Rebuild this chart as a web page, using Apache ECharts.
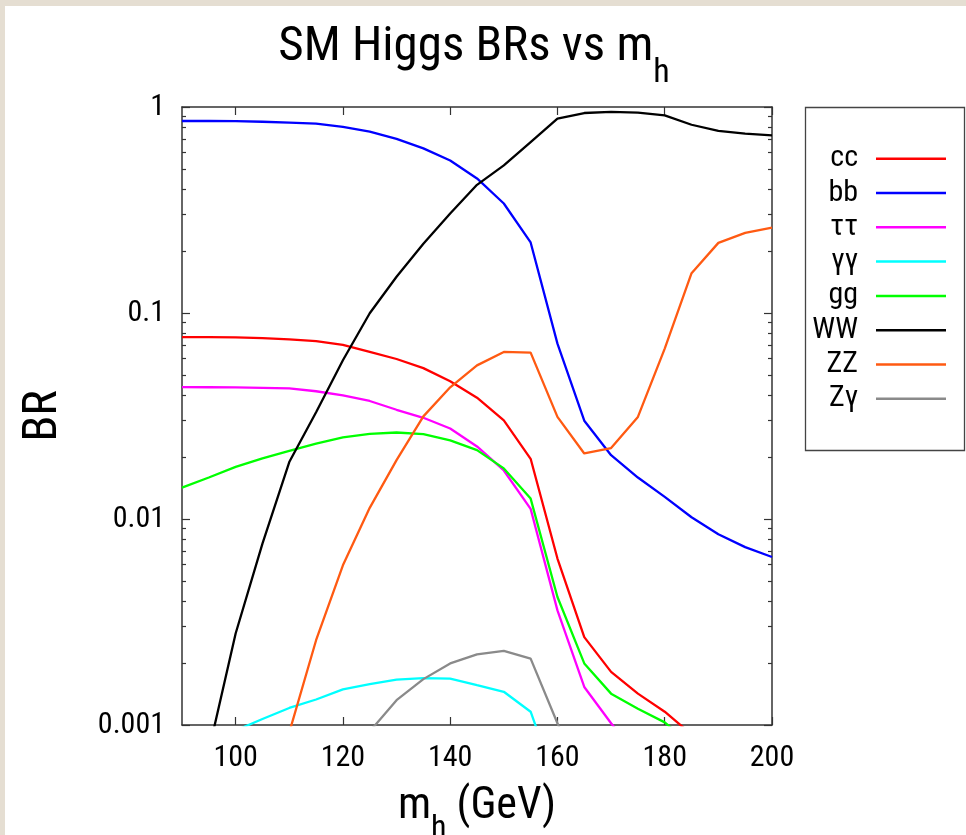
<!DOCTYPE html>
<html><head><meta charset="utf-8">
<script src="https://cdn.jsdelivr.net/npm/echarts@6/dist/echarts.min.js"></script>
<style>
html,body{margin:0;padding:0;background:#fff;}
#frameTop{position:absolute;left:0;top:0;width:966px;height:6px;background:#e5ded2;}
#frameLeft{position:absolute;left:0;top:0;width:5px;height:835px;background:#e5ded2;}
#c{position:absolute;left:0;top:0;width:966px;height:835px;}
</style></head>
<body>
<div id="c"></div>
<div id="frameTop"></div><div id="frameLeft"></div>
<script>
const masses = [90,95,100,105,110,115,120,125,130,135,140,145,150,155,160,165,170,175,180,185,190,195,200];
const brCC  = [0.0764,0.0763,0.0762,0.0755,0.0745,0.0731,0.0700,0.0648,0.0598,0.0540,0.0466,0.0388,0.0301,0.0196,0.00643,0.00267,0.00181,0.00142,0.00116,0.0009,0.0008,0.0007,0.0006];
const brBB  = [0.855,0.855,0.853,0.848,0.840,0.830,0.800,0.760,0.700,0.630,0.550,0.450,0.340,0.220,0.071,0.030,0.0204,0.0159,0.0128,0.0102,0.00843,0.0073,0.00654];
const brTT  = [0.0437,0.0436,0.0435,0.0433,0.0431,0.0417,0.0398,0.0374,0.0339,0.0310,0.0275,0.0225,0.0172,0.0112,0.00360,0.00153,0.00102,0.0007,0.0006,0.0005,0.0004,0.0004,0.0003];
const brAA  = [0.0007,0.0008,0.00094,0.00107,0.00121,0.00133,0.00149,0.00158,0.00166,0.00169,0.00168,0.00156,0.00145,0.00116,0.0005,0.0003,0.0002,0.0002,0.0002,0.0001,0.0001,0.0001,0.0001];
const brGG  = [0.0142,0.0159,0.0179,0.0197,0.0214,0.0232,0.0249,0.0259,0.0263,0.0258,0.0241,0.0216,0.0176,0.01256,0.00418,0.00199,0.00142,0.00120,0.00103,0.0008,0.0007,0.0006,0.0005];
const brWW  = [0.0003,0.00075,0.00278,0.0076,0.0189,0.033,0.059,0.0997,0.150,0.217,0.304,0.419,0.521,0.676,0.878,0.935,0.946,0.940,0.911,0.820,0.765,0.743,0.729];
const brZZ  = [0.0001,0.0002,0.0004,0.0006,0.00092,0.00258,0.00596,0.01133,0.0193,0.0315,0.0436,0.0557,0.0647,0.0642,0.0313,0.0208,0.0221,0.0313,0.0672,0.156,0.219,0.245,0.260];
const brZA  = [0.0001,0.0001,0.0001,0.0002,0.0003,0.0004,0.0006,0.00093,0.00132,0.00167,0.00199,0.00220,0.00229,0.00210,0.00102,0.0005,0.0003,0.0002,0.0002,0.0001,0.0001,0.0001,0.0001];
const xTicks = [100,120,140,160,180,200];
const yMajor = [0.001,0.01,0.1,1];
const yMinor = [0.002,0.003,0.004,0.005,0.006,0.007,0.008,0.009,0.02,0.03,0.04,0.05,0.06,0.07,0.08,0.09,0.2,0.3,0.4,0.5,0.6,0.7,0.8,0.9];
const seriesDefs = [
  {name:'cc', data:brCC, color:'#ff0000'},
  {name:'bb', data:brBB, color:'#0000ff'},
  {name:'\u03c4\u03c4', data:brTT, color:'#ff00ff'},
  {name:'\u03b3\u03b3', data:brAA, color:'#00ffff'},
  {name:'gg', data:brGG, color:'#00ff00'},
  {name:'WW', data:brWW, color:'#000000'},
  {name:'ZZ', data:brZZ, color:'#ff5a12'},
  {name:'Z\u03b3', data:brZA, color:'#8a8a8a'}
];

const FONT = '"Roboto Condensed", "Liberation Sans", Arial, sans-serif';
const axisCol = '#333';
const chart = echarts.init(document.getElementById('c'), null, {renderer:'canvas'});

function xAx(pos, showLabel){
  return {
    type:'value', position:pos, min:90, max:200,
    axisLine:{show:true, onZero:false, lineStyle:{color:axisCol, width:1.5}},
    axisTick:{show:true, inside:true, length:8, customValues:xTicks, lineStyle:{color:axisCol, width:1.2}},
    axisLabel:{show:showLabel, customValues:xTicks, margin:18, color:'#000', fontFamily:FONT, fontSize:30},
    splitLine:{show:false},
    name: showLabel ? '{m|m}{s|h}{m| (GeV)}' : '',
    nameLocation:'middle', nameGap:60,
    nameTextStyle:{rich:{m:{fontFamily:FONT,fontSize:44,color:'#000'}, s:{fontFamily:FONT,fontSize:32,color:'#000',verticalAlign:'bottom',padding:[0,0,-16,0]}}}
  };
}
function yAx(pos, major, showLabel){
  return {
    type:'log', logBase:10, position:pos, min:0.001, max:1,
    axisLine:{show:major, onZero:false, lineStyle:{color:axisCol, width:1.5}},
    axisTick:{show:true, inside:true, length: major?8:4, customValues: major?yMajor:yMinor, lineStyle:{color:axisCol, width:1.2}},
    axisLabel:{show:showLabel, customValues:yMajor, margin:17, color:'#000', fontFamily:FONT, fontSize:30,
      formatter:function(v){ if (v>=1) return '1'; if (v>=0.1) return '0.1'; if (v>=0.01) return '0.01'; return '0.001'; }},
    splitLine:{show:false}, minorTick:{show:false},
    name: showLabel ? 'BR' : '', nameLocation:'middle', nameGap:114, nameRotate:90,
    nameTextStyle:{fontFamily:FONT, fontSize:48, color:'#000'}
  };
}

const option = {
  backgroundColor:'#ffffff',
  animation:false,
  title:{
    text:'{t|SM Higgs BRs vs m}{s|h}', left:469, top:18, textAlign:'center',
    textStyle:{rich:{t:{fontFamily:FONT,fontSize:49,fontWeight:'normal',color:'#000'}, s:{fontFamily:FONT,fontSize:34,fontWeight:'normal',color:'#000',verticalAlign:'bottom',padding:[0,0,-18,0]}}}
  },
  grid:{left:182, right:194, top:107, bottom:110, outerBoundsMode:'none', containLabel:false},
  legend:{
    orient:'vertical', align:'right', right:15, top:138.7, padding:5,
    icon:'rect', itemWidth:70, itemHeight:2.5, itemGap:4.3,
    textStyle:{fontFamily:FONT, fontSize:30, color:'#000', lineHeight:30, padding:[0,13,0,0]},
    data: seriesDefs.map(s=>s.name)
  },
  graphic:[{type:'rect', left:803, top:105, shape:{width:159, height:343}, style:{fill:'none', stroke:'#444', lineWidth:1.3}, z:-1}],
  xAxis:[xAx('bottom', true), xAx('top', false)],
  yAxis:[yAx('left', true, true), yAx('left', false, false), yAx('right', true, false), yAx('right', false, false)],
  series: seriesDefs.map(s=>({
    name:s.name, type:'line', symbol:'none', smooth:false, clip:true,
    xAxisIndex:0, yAxisIndex:0,
    data: masses.map((m,i)=>[m, s.data[i]]),
    lineStyle:{color:s.color, width:2.3}, itemStyle:{color:s.color}
  }))
};
chart.setOption(option);
</script>
</body></html>
